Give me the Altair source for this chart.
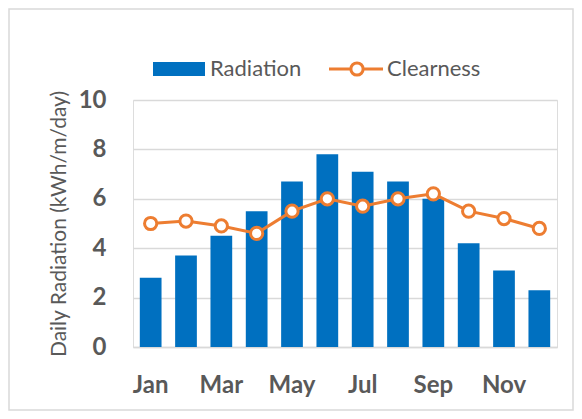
import altair as alt
import pandas as pd

months = ["Jan", "Feb", "Mar", "Apr", "May", "Jun", "Jul", "Aug", "Sep", "Oct", "Nov", "Dec"]
radiation = [2.8, 3.7, 4.5, 5.5, 6.7, 7.8, 7.1, 6.7, 6.0, 4.2, 3.1, 2.3]
clearness = [5.0, 5.1, 4.9, 4.6, 5.5, 6.0, 5.7, 6.0, 6.2, 5.5, 5.2, 4.8]
shown_labels = ["Jan", "Mar", "May", "Jul", "Sep", "Nov"]

df = pd.DataFrame({"Month": months, "Radiation": radiation, "Clearness": clearness})

FONT = "Lato"
GRAY = "#595959"
BLUE = "#0070C0"
ORANGE = "#ED7D31"
W, H = 424, 247

x = alt.X("Month:N", sort=months,
          scale=alt.Scale(paddingInner=0.385, paddingOuter=0.1925),
          axis=alt.Axis(title=None, values=shown_labels, labelAngle=0, ticks=False,
                        domainColor="#d9d9d9", domainWidth=1.5,
                        labelFont=FONT, labelFontSize=24, labelFontWeight="bold",
                        labelColor=GRAY, labelPadding=26))
yscale = alt.Scale(domain=[0, 10])
yaxis = alt.Axis(title="Daily Radiation (kWh/m/day)", values=[0, 2, 4, 6, 8, 10],
                 domain=False, ticks=False, gridColor="#d9d9d9", gridWidth=1.5,
                 labelFont=FONT, labelFontSize=24, labelFontWeight="bold", labelColor=GRAY,
                 labelPadding=27, titleFont=FONT, titleFontSize=21,
                 titleFontWeight="normal", titleColor=GRAY, titlePadding=9)

base = alt.Chart(df)
bars = base.mark_bar(color=BLUE).encode(x=x, y=alt.Y("Radiation:Q", scale=yscale, axis=yaxis))
line = base.mark_line(color=ORANGE, strokeWidth=3).encode(
    x=x, y=alt.Y("Clearness:Q", scale=yscale))
pts = base.mark_point(shape="circle", filled=True, fill="white", stroke=ORANGE,
                      strokeWidth=3, size=150, opacity=1).encode(
    x=x, y=alt.Y("Clearness:Q", scale=yscale))

one = pd.DataFrame({"k": [0]})
lg = alt.Chart(one)
leg_rect = lg.mark_rect(color=BLUE).encode(
    x=alt.value(20), x2=alt.value(72), y=alt.value(-38), y2=alt.value(-24))
leg_text1 = lg.mark_text(text="Radiation", align="left", baseline="middle", font=FONT,
                         fontSize=22, color=GRAY).encode(x=alt.value(77), y=alt.value(-31))
leg_rule = lg.mark_rule(color=ORANGE, strokeWidth=3).encode(
    x=alt.value(196), x2=alt.value(250), y=alt.value(-31))
leg_pt = lg.mark_point(shape="circle", filled=True, fill="white", stroke=ORANGE,
                       strokeWidth=3, size=150, opacity=1).encode(
    x=alt.value(224), y=alt.value(-31))
leg_text2 = lg.mark_text(text="Clearness", align="left", baseline="middle", font=FONT,
                         fontSize=22, color=GRAY).encode(x=alt.value(254), y=alt.value(-31))
border = lg.mark_rect(fill=None, stroke="#d9d9d9", strokeWidth=1.5).encode(
    x=alt.value(-124), x2=alt.value(440), y=alt.value(-91), y2=alt.value(310))

chart = alt.layer(border, bars, line, pts, leg_rect, leg_text1, leg_rule, leg_pt, leg_text2).properties(
    width=W, height=H,
    autosize=alt.AutoSizeParams(type="none"),
    padding={"left": 125, "top": 92, "right": 17, "bottom": 64},
).configure_view(stroke=None).configure(background="white")

chart.save("out.html", embed_options={"renderer": "svg", "actions": False})
